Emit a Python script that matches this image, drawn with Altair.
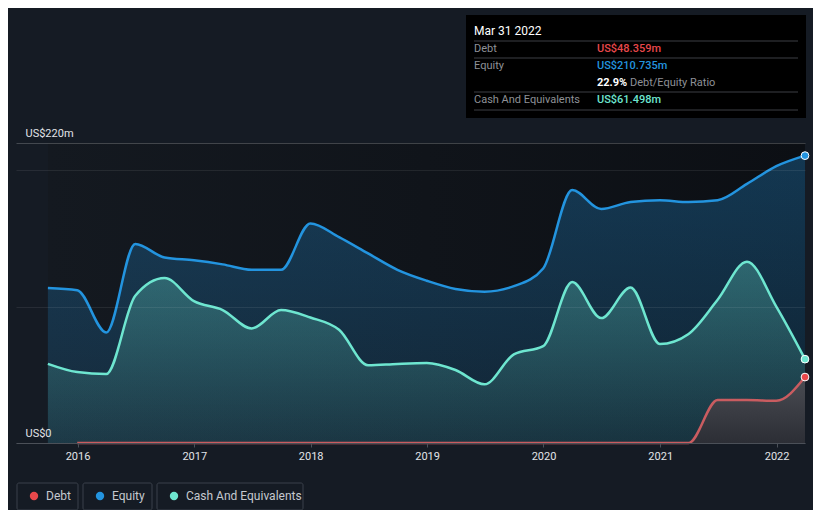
import altair as alt
import pandas as pd

# ---------------- data ----------------
quarters = ["2015-09-30", "2015-12-31", "2016-03-31", "2016-06-30", "2016-09-30", "2016-12-31",
            "2017-03-31", "2017-06-30", "2017-09-30", "2017-12-31", "2018-03-31", "2018-06-30",
            "2018-09-30", "2018-12-31", "2019-03-31", "2019-06-30", "2019-09-30", "2019-12-31",
            "2020-03-31", "2020-06-30", "2020-09-30", "2020-12-31", "2021-03-31", "2021-06-30",
            "2021-09-30", "2021-12-31", "2022-03-31"]
equity = [113.6, 112.0, 81.0, 146.0, 136.0, 134.0, 131.0, 127.0, 127.0, 161.0, 151.0, 139.0,
          127.0, 119.0, 113.0, 111.0, 115.0, 128.0, 185.5, 171.6, 176.7, 178.0, 176.7, 178.0,
          190.0, 203.0, 210.735]
cash = [58.0, 52.0, 50.6, 108.0, 121.0, 104.0, 97.5, 84.0, 97.5, 92.0, 83.0, 57.0,
        58.0, 58.6, 53.5, 43.0, 65.0, 71.0, 118.0, 91.6, 114.0, 72.6, 80.0, 105.0,
        133.0, 100.0, 61.498]
debt_quarters = quarters[1:]
debt = [0, 0, 0, 0, 0, 0, 0, 0, 0, 0, 0, 0, 0, 0, 0, 0, 0, 0, 0, 0, 0, 0,
        31.5, 31.5, 31.0, 48.359]

series_names = ["Debt", "Equity", "Cash And Equivalents"]
series_colors = ["#e8484b", "#2394df", "#6ee6d0"]
year_ticks = [2016, 2017, 2018, 2019, 2020, 2021, 2022]
y_ticks = [0, 100, 200, 220]

tip_date = "Mar 31 2022"
tip_debt = "US$48.359m"
tip_equity = "US$210.735m"
tip_ratio = "22.9%"
tip_cash = "US$61.498m"

# ---------------- frames ----------------
df_eq = pd.DataFrame({"date": quarters, "value": equity, "series": "Equity"})
df_cash = pd.DataFrame({"date": quarters, "value": cash, "series": "Cash And Equivalents"})
df_debt = pd.DataFrame({"date": debt_quarters, "value": debt, "series": "Debt"})
df_last = pd.concat([df_debt.tail(1), df_eq.tail(1), df_cash.tail(1)])
df_span = pd.DataFrame({"date": [quarters[0]], "end": [quarters[-1]], "value": [220], "bottom": [0]})

FONT = "Roboto"
W, H = 789, 300
OX, OY = 16, 143


def ax(v):
    return v - OX


def ay(v):
    return v - OY


xscale = alt.Scale(type="utc",
                   domain=[alt.DateTime(year=2015, month=6, date=22, utc=True),
                           alt.DateTime(year=2022, month=3, date=31, utc=True)])
yscale = alt.Scale(domain=[0, 220], nice=False, zero=True)

x_axis = alt.Axis(values=[alt.DateTime(year=y, month=1, date=1, utc=True) for y in year_ticks],
                  format="%Y", grid=False, domainColor="#4b5058", tickColor="#4b5058",
                  tickSize=4, labelColor="#e2e4e8", labelFontSize=11, labelFont=FONT,
                  labelPadding=3, labelFlush=False, title=None, zindex=1)
y_axis = alt.Axis(values=y_ticks,
                  labelExpr="datum.value == 220 ? 'US$220m' : (datum.value == 0 ? 'US$0' : '')",
                  domain=False, ticks=False, labelAlign="left", labelPadding=-9,
                  labelBaseline="alphabetic", labelOffset=-7, labelColor="#e2e4e8",
                  labelFontSize=11, labelFont=FONT, labelOverlap=False, labelFlush=False,
                  gridColor={"condition": {"test": "datum.value === 220",
                                           "value": "rgba(255,255,255,0.2)"},
                             "value": "rgba(255,255,255,0.08)"},
                  title=None, zindex=1)

X = alt.X("date:T", scale=xscale, axis=x_axis)
Y = alt.Y("value:Q", scale=yscale, axis=y_axis)

bg = alt.Chart(df_span).mark_rect(
    color=alt.Gradient(gradient="linear", x1=0, x2=1, y1=0, y2=0,
                       stops=[alt.GradientStop(color="#141920", offset=0),
                              alt.GradientStop(color="#0c0f14", offset=1)])
).encode(x=X, x2="end:T", y=Y, y2="bottom:Q")


def area(df, stops):
    return alt.Chart(df).mark_area(
        interpolate="monotone", opacity=1,
        color=alt.Gradient(gradient="linear", x1=0, x2=0, y1=0, y2=1,
                           stops=[alt.GradientStop(color=c, offset=o) for o, c in stops])
    ).encode(x=X, y=Y)


def line(df, color):
    return alt.Chart(df).mark_line(interpolate="monotone", strokeWidth=2.5, color=color).encode(x=X, y=Y)


a_eq = area(df_eq, [(0, "rgba(35,148,223,0.30)"), (1, "rgba(35,148,223,0.14)")])
a_cash = area(df_cash, [(0, "rgba(110,230,208,0.30)"), (1, "rgba(110,230,208,0.08)")])
a_debt = area(df_debt, [(0, "#4a4c53"), (1, "#2c2e35")])

l_eq = line(df_eq, "#2394df")
l_cash = line(df_cash, "#6ee6d0")
l_debt = line(df_debt, "#c95c60")

pts = alt.Chart(df_last).mark_point(filled=True, size=60, stroke="white", strokeWidth=1, opacity=1).encode(
    x=X, y=Y,
    color=alt.Color("series:N", scale=alt.Scale(domain=series_names, range=series_colors),
                    legend=alt.Legend(orient="none", legendX=12, legendY=347, direction="horizontal",
                                      title=None, symbolType="circle", symbolSize=70,
                                      symbolStrokeWidth=0, symbolOpacity=1, labelFontSize=12,
                                      labelFont=FONT, labelColor="#c5c9cf", labelOffset=6,
                                      columnPadding=23, padding=0))
)

# ---------------- tooltip box ----------------
tip_layers = [
    alt.Chart(df_span).mark_rect(color="#000000").encode(
        x=alt.value(ax(466)), x2=alt.value(ax(806)), y=alt.value(ay(15)), y2=alt.value(ay(118)))
]
for yy in [41, 58, 92, 110]:
    tip_layers.append(alt.Chart(df_span).mark_rule(color="#3c3f44", strokeWidth=1).encode(
        x=alt.value(ax(474)), x2=alt.value(ax(798)), y=alt.value(ay(yy))))


def txt(s, x, y, color, size=11, weight="normal"):
    return alt.Chart(df_span).mark_text(text=s, align="left", baseline="middle", font=FONT,
                                        fontSize=size, fontWeight=weight, color=color).encode(
        x=alt.value(ax(x)), y=alt.value(ay(y)))


tip_layers += [
    txt(tip_date, 474, 31, "#ffffff", 12),
    txt("Debt", 474, 49, "#8e9197"),
    txt(tip_debt, 597, 49, "#e8484b", 11, 500),
    txt("Equity", 474, 66, "#8e9197"),
    txt(tip_equity, 597, 66, "#2394df", 11, 500),
    txt(tip_ratio, 597, 83, "#ffffff", 11, "bold"),
    txt("Debt/Equity Ratio", 630, 83, "#8e9197"),
    txt("Cash And Equivalents", 474, 100, "#8e9197"),
    txt(tip_cash, 597, 100, "#6ee6d0", 11, 500),
]

# ---------------- legend boxes ----------------
box_layers = []
for x0, x1 in [(17, 78), (83, 152), (157, 303)]:
    box_layers.append(alt.Chart(df_span).mark_rect(fill=None, fillOpacity=0, stroke="#3b414b",
                                                   strokeWidth=1, cornerRadius=2).encode(
        x=alt.value(ax(x0)), x2=alt.value(ax(x1)), y=alt.value(ay(483)), y2=alt.value(ay(510))))

chart = alt.layer(bg, a_eq, a_cash, a_debt, l_eq, l_cash, l_debt, pts, *tip_layers, *box_layers).properties(
    width=W, height=H,
    autosize=alt.AutoSizeParams(type="none"),
    padding={"left": 8, "top": 135, "right": 8, "bottom": 67},
    background="#151b24"
).configure_view(strokeWidth=0)

chart.save("out.html", embed_options={"renderer": "svg", "actions": False})
